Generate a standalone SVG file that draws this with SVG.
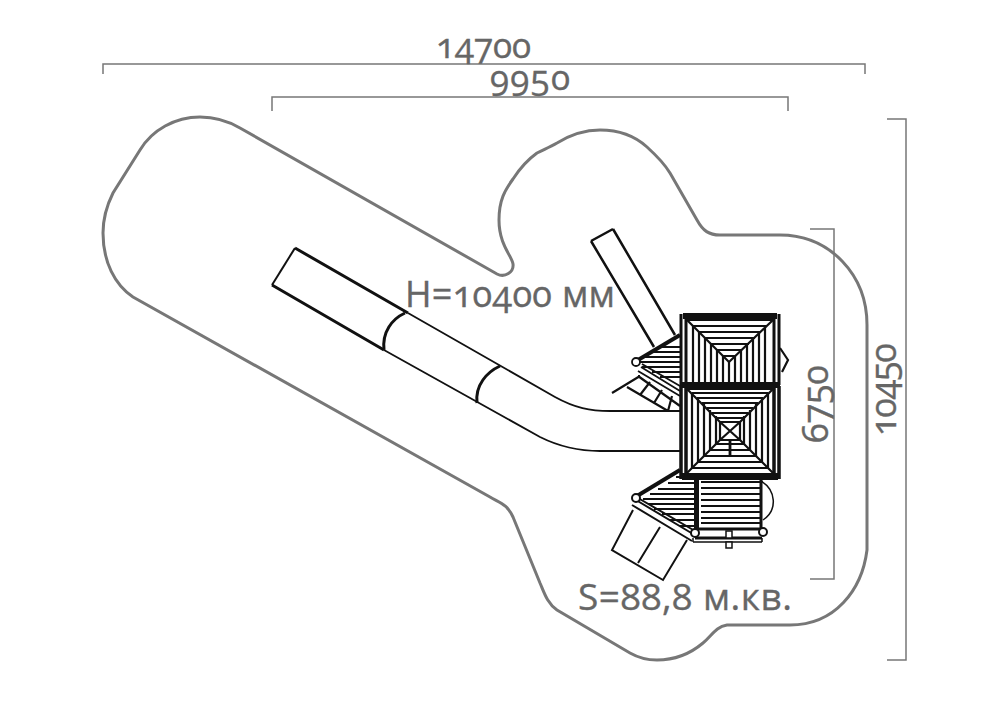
<svg xmlns="http://www.w3.org/2000/svg" width="1000" height="707" viewBox="0 0 1000 707">
<style>
.t{font-family:"Open Sans","Lato","DejaVu Sans",sans-serif;fill:#666;stroke:#666;stroke-width:.35;font-feature-settings:"onum";font-variant-numeric:oldstyle-nums}
.dim{fill:none;stroke:#777;stroke-width:1.5}
.k{fill:none;stroke:#111;stroke-linecap:butt}
</style>
<rect width="1000" height="707" fill="#fff"/>
<g id="zone"><path d="M240 128L497 274C505 278 514 272 513 264C512 256 499 245 499 220C499 200 505 190 513 179C522 165 530 158 537 153C545 149 550 147 557 143C570 135 585 130 600 130C620 130 636 137 647 147C658 157 664 163 670 173L697 220C703 231 709 235 720 235L780 235C830 235 867 275 867 325L867 550C862 590 835 625 790 625L727 625C715 627 712 636 703 643C690 654 675 660 657 660C645 660 637 657 630 653L557 610C547 603 544 592 540 583L513 517C507 504 500 503 490 497L133 297C115 285 103 262 103 233C103 217 107 205 113 193L140 150C152 130 175 117 200 117C215 117 228 121 240 128Z" fill="none" stroke="#777" stroke-width="3"/></g>
<g id="dimensions">
<path class="dim" d="M103 74V64H865V74M272 111V97H788V111M887 119H906V660H887M810 229H834V579H810"/>
<text class="t" x="436" y="58" font-size="35" textLength="95">14700</text>
<text class="t" x="490" y="90" font-size="35" textLength="80">9950</text>
<text class="t" x="405" y="307" font-size="36" textLength="210">H=10400 мм</text>
<text class="t" x="578" y="610" font-size="37" textLength="214">S=88,8 м.кв.</text>
<text class="t" transform="translate(828 443) rotate(-90)" font-size="36" textLength="78">6750</text>
<text class="t" transform="translate(896 436) rotate(-90)" font-size="36" textLength="93">10450</text>
</g>
<g id="slide">
<path class="k" stroke-width="3" d="M295 248L408 313M272 285L384 350"/>
<path class="k" stroke-width="2" d="M295 248L272 285"/>
<path class="k" stroke-width="1.800" d="M408 313L555 397C575 408 590 411 610 411H680M384 350L540 437C560 447 580 451 600 451H680"/>
<path class="k" stroke-width="3" d="M405 313C392 319 382 332 384 350M500 366C487 372 475 385 477 403"/>
</g>
<g id="back-slide"><path class="k" stroke-width="2.500" d="M613 229L675 335M591 241L613 229M591 241L654 347"/></g>
<g id="roof-top">
<path class="k" stroke-width="6" d="M683 316H777M680 385H780"/>
<path class="k" stroke-width="3" d="M681 314V385M686 318V385M779 314V385M774 318V385"/>
<path class="k" stroke-width="2.200" d="M687 320H773M687 320L729 362L773 320M693 326H767M699 332H761M705 338H755M711 344H749M717 350H741M723 356H735"/>
<path class="k" stroke-width="2.200" d="M693 326V383M699 332V383M705 338V383M711 344V383M717 350V383M723 356V383M729 362V383M735 356V383M741 350V383M747 344V383M753 338V383M759 332V383M765 326V383"/>
<path class="k" stroke-width="2.200" d="M780 348L788 360L782 372"/>
</g>
<g id="roof-main">
<path class="k" stroke-width="7" d="M682 476.500H778"/>
<path class="k" stroke-width="3.500" d="M681 386V479M686 388V476M779 386V479M774 388V476"/>
<path class="k" stroke-width="2.200" d="M687 389H773M692 393H768M697 398H763M702 403H758M707 408H753M712 413H748M717 418H743M687 389L720 422M773 389L740 422M692 468H768M698 462H762M704 456H756M710 450H750M716 444H744M687 473L720 440M773 473L740 440"/>
<path class="k" stroke-width="2.200" d="M692 393V468M698 398V462M704 404V456M710 410V450M716 416V444M744 416V444M750 410V450M756 404V456M762 398V462M768 393V468"/>
<path class="k" stroke-width="2.200" d="M720 422H740V440H720ZM720 422L740 440M740 422L720 440"/>
<path class="k" stroke-width="2.800" d="M730 440V456"/>
</g>
<g id="platform-upper">
<path class="k" stroke-width="4" d="M638 360L680 335"/>
<path class="k" stroke-width="2" d="M660 347H680M650 352H680M641 357H680M640 362H680M642 367H680M652 372H680M660 377H680"/>
<path class="k" stroke-width="1.800" d="M641 367L680 391M642 364L680 386M638 371L680 396"/>
<circle cx="636" cy="362" r="4" fill="#fff" stroke="#111" stroke-width="1.800"/>
<path class="k" stroke-width="2.200" d="M612 393L640 376M627 387L668 411M638 376L680 406M640 395L650 382M654 403L662 390M668 411L672 396"/>
</g>
<g id="platform-lower">
<path class="k" stroke-width="4" d="M637 496L680 470"/>
<path class="k" stroke-width="2.200" d="M676 477H695M668 483H695M658 489H695M650 494H695M643 499H695M648 504H695M654 509H695M662 514H695M670 520H695M680 526H695"/>
<path class="k" stroke-width="2" d="M632 505L692 541M636 500L693 534M638 498L695 531"/>
<path class="k" stroke-width="5" d="M696.500 480V532"/>
<path class="k" stroke-width="2.200" d="M701 482H760M701 488H760M701 494H760M701 500H760M701 506H760M701 512H760M701 518H760M701 523H760"/>
<path class="k" stroke-width="3" d="M761 480V528M699 529H762M695 538H762"/>
<path class="k" stroke-width="1.500" d="M693 542H762M693 538V542M762 538V542M761 481C776 490 778 510 763 520"/>
<rect x="726" y="531" width="6" height="7" fill="#fff" stroke="#111" stroke-width="1.500"/>
<rect x="726" y="542" width="6" height="6" fill="#fff" stroke="#111" stroke-width="1.500"/>
<circle cx="636" cy="498" r="4" fill="#fff" stroke="#111" stroke-width="2"/>
<circle cx="695" cy="533" r="4" fill="#fff" stroke="#111" stroke-width="2"/>
<circle cx="763" cy="532" r="4" fill="#fff" stroke="#111" stroke-width="2"/>
<path class="k" stroke-width="2" d="M633 510L612 550L663 580L687 540M660 527L638 563"/>
</g>
</svg>
